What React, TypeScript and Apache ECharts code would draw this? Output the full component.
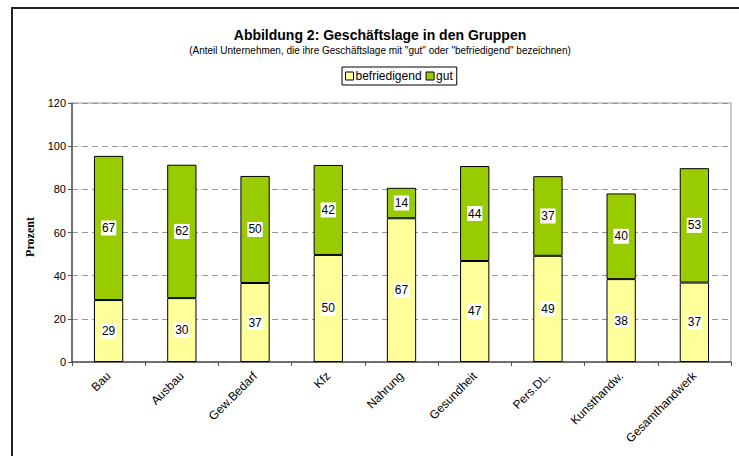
import React, { useEffect, useRef } from "react";
import * as echarts from "echarts";

const categories = ["Bau", "Ausbau", "Gew.Bedarf", "Kfz", "Nahrung", "Gesundheit", "Pers.DL.", "Kunsthandw.", "Gesamthandwerk"];
const befriedigend = [28.7, 29.6, 36.6, 49.6, 66.6, 46.8, 49.2, 38.4, 36.8];
const gut = [66.8, 61.8, 49.6, 41.7, 14.1, 44.0, 36.9, 39.7, 53.0];
const seriesNames = ["befriedigend", "gut"];
const titleText = "Abbildung 2: Geschäftslage in den Gruppen";
const subtitleText = '(Anteil Unternehmen, die ihre Geschäftslage mit "gut" oder "befriedigend" bezeichnen)';

const FONT = "Liberation Sans, Arial, sans-serif";

export default function App() {
  const ref = useRef<HTMLDivElement>(null);
  useEffect(() => {
    if (!ref.current) return;
    const chart = echarts.init(ref.current, undefined, { renderer: "svg" });
    const label = {
      show: true,
      position: "inside" as const,
      formatter: (p: any) => String(Math.round(p.value)),
      color: "#000",
      fontSize: 12,
      fontFamily: FONT,
      backgroundColor: "#fff",
      padding: [2, 1, 1, 1],
    };
    chart.setOption({
      animation: false,
      backgroundColor: "#fff",
      title: [
        {
          text: titleText,
          left: 375,
          textAlign: "center",
          top: 23,
          textStyle: { fontSize: 14, fontWeight: "bold", fontFamily: FONT, color: "#000" },
        },
        {
          text: subtitleText,
          left: 375,
          textAlign: "center",
          top: 40,
          textStyle: { fontSize: 10, fontWeight: "normal", fontFamily: FONT, color: "#000" },
        },
      ],
      legend: {
        data: seriesNames,
        left: 342,
        top: 67,
        itemWidth: 8,
        itemHeight: 8,
        itemGap: 4,
        padding: [3, 4, 3, 3],
        borderColor: "#000",
        borderWidth: 1,
        icon: "rect",
        textStyle: { fontSize: 12, fontFamily: FONT, color: "#000", padding: [0, 0, 0, -3] },
        itemStyle: { borderColor: "#000", borderWidth: 1 },
      },
      graphic: [
        {
          type: "rect",
          shape: { x: 12, y: 8, width: 800, height: 600 },
          style: { fill: "none", stroke: "#222", lineWidth: 2 },
          silent: true,
        },
        {
          type: "text",
          x: 30,
          y: 237,
          rotation: Math.PI / 2,
          style: {
            text: "Prozent",
            fill: "#000",
            font: "bold 12px 'Liberation Serif', 'Times New Roman', serif",
            align: "center",
            verticalAlign: "middle",
          },
        },
      ],
      grid: {
        left: 72,
        right: 8,
        top: 103,
        bottom: 94,
        show: true,
        borderColor: "#999",
        borderWidth: 1,
      },
      xAxis: {
        type: "category",
        data: categories,
        axisLine: { lineStyle: { color: "#555", width: 1.5 } },
        axisTick: { show: true, length: 4, lineStyle: { color: "#555" } },
        axisLabel: {
          rotate: 45,
          fontSize: 12,
          fontFamily: FONT,
          color: "#000",
          margin: 12,
          interval: 0,
        },
      },
      yAxis: {
        type: "value",
        min: 0,
        max: 120,
        interval: 20,
        axisLine: { show: true, lineStyle: { color: "#555", width: 1.5 } },
        axisTick: { show: true, length: 4, lineStyle: { color: "#555" } },
        axisLabel: { fontSize: 11, fontFamily: FONT, color: "#000", margin: 6 },
        splitLine: { show: true, lineStyle: { color: "#999", type: [6, 4], width: 1 } },
      },
      series: [
        {
          name: seriesNames[0],
          type: "bar",
          stack: "total",
          data: befriedigend,
          barWidth: "40%",
          itemStyle: { color: "#FFFF99", borderColor: "#000", borderWidth: 1 },
          label,
        },
        {
          name: seriesNames[1],
          type: "bar",
          stack: "total",
          data: gut,
          barWidth: "40%",
          itemStyle: { color: "#99CC00", borderColor: "#000", borderWidth: 1 },
          label,
        },
      ],
    });
    return () => chart.dispose();
  }, []);
  return (
    <div
      ref={ref}
      style={{ position: "fixed", left: 0, top: 0, width: 739, height: 456 }}
    />
  );
}
